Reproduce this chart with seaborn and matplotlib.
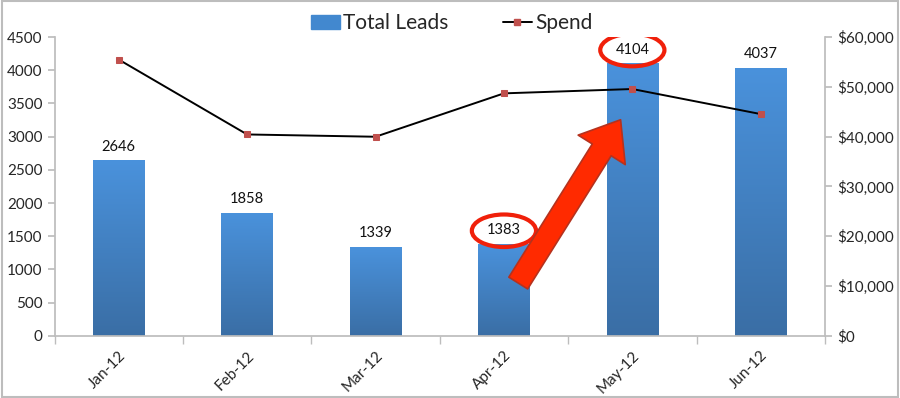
import numpy as np
import pandas as pd
import matplotlib
matplotlib.use("Agg")
import matplotlib.pyplot as plt
from matplotlib.patches import Ellipse, Patch, Rectangle
from matplotlib.lines import Line2D
from matplotlib.ticker import FuncFormatter, MultipleLocator
import seaborn as sns

# ---- data ----
months = ["Jan-12", "Feb-12", "Mar-12", "Apr-12", "May-12", "Jun-12"]
leads = [2646, 1858, 1339, 1383, 4104, 4037]
spend = [55470, 40440, 39980, 48690, 49560, 44530]
highlighted = ["Apr-12", "May-12"]

sns.set_theme(style="white")
plt.rcParams["font.family"] = ["Lato", "DejaVu Sans"]

df = pd.DataFrame({"month": months, "leads": leads, "spend": spend,
                   "pos": np.arange(len(months))})

fig = plt.figure(figsize=(9, 3.98), dpi=100)
ax = fig.add_axes([0.0606, 0.156, 0.856, 0.751])

#bars
sns.barplot(data=df, x="month", y="leads", ax=ax, width=0.4, color="#4288CF",
            saturation=1, edgecolor="none")

# vertical gradient on each bar (light on top, darker at the bottom)
grad = np.linspace(0, 1, 256).reshape(-1, 1)
cmap = matplotlib.colors.LinearSegmentedColormap.from_list("bar", ["#3A6EA5", "#4A92DC"])
for p in ax.patches:
    x0, y0 = p.get_x(), p.get_y()
    w, h = p.get_width(), p.get_height()
    im = ax.imshow(grad, cmap=cmap, aspect="auto", origin="lower",
                   extent=(x0, x0 + w, y0, y0 + h), zorder=p.get_zorder())
    im.set_clip_path(p)

ax.set_xlim(-0.5, len(months) - 0.5)
ax.set_ylim(0, 4500)
ax.yaxis.set_major_locator(MultipleLocator(500))

# value labels above bars
for i, v in enumerate(leads):
    ax.text(i, v + 205, str(v), ha="center", va="center", fontsize=10.5, color="#111111")

# red circles round the two highlighted labels
for m in highlighted:
    i = months.index(m)
    ax.add_patch(Ellipse((i, leads[i] + 200), 0.5, 490, fill=False,
                         edgecolor="#F0200A", lw=3, zorder=6))

# big red arrow from Apr up to May
ax.annotate("", xy=(3.92, 3290), xytext=(3.1, 760),
            arrowprops=dict(arrowstyle="simple,head_length=1.6,head_width=2.5,tail_width=1.0",
                            fc="#FF2A00", ec="#B5321E", lw=1.2, mutation_scale=16),
            zorder=7)

# spend line on the right axis
ax2 = ax.twinx()
sns.lineplot(data=df, x="pos", y="spend", ax=ax2, color="black", lw=1.4,
             marker="s", markersize=5, markerfacecolor="#C0504D",
             markeredgecolor="#C0504D", zorder=5)
ax2.set_ylim(0, 60000)
ax2.yaxis.set_major_locator(MultipleLocator(10000))
ax2.yaxis.set_major_formatter(FuncFormatter(lambda v, _: f"${v:,.0f}"))
ax2.set_xlim(-0.5, len(months) - 0.5)

# axes styling
for a in (ax, ax2):
    a.set_xlabel("")
    a.set_ylabel("")
    for s in a.spines.values():
        s.set_color("#BDBDBD")
    a.spines["top"].set_visible(False)
ax.spines["right"].set_visible(False)
ax2.spines["left"].set_visible(False)
ax2.spines["bottom"].set_visible(False)

ax.set_xticks(np.arange(len(months)))
ax.set_xticklabels(months, rotation=45, ha="right", va="top", rotation_mode="anchor",
                   fontsize=11)
ax.set_xticks(np.arange(-0.5, len(months)), minor=True)
ax.tick_params(axis="x", which="major", length=0, pad=9)
ax.tick_params(axis="x", which="minor", length=6, color="#BDBDBD", bottom=True)
ax.tick_params(axis="y", length=5, color="#BDBDBD", labelsize=11, left=True)
ax2.tick_params(axis="y", length=5, color="#BDBDBD", labelsize=11, right=True)

# legend at the top
handles = [Patch(facecolor="#4288CF", edgecolor="#4288CF"),
           Line2D([0], [0], color="black", lw=1.4, marker="s", markersize=4,
                  markerfacecolor="#C0504D", markeredgecolor="#C0504D")]
fig.legend(handles, ["Total Leads", "Spend"], loc="center", bbox_to_anchor=(0.502, 0.942),
           ncol=2, frameon=False, fontsize=15, columnspacing=2.6, handlelength=1.4,
           handletextpad=0.15)

# light frame around the whole picture
fig.patches.append(Rectangle((0.002, 0.003), 0.996, 0.994, transform=fig.transFigure,
                             fill=False, edgecolor="#BDBDBD", lw=1.5))

fig.savefig("out.png", dpi=100)
